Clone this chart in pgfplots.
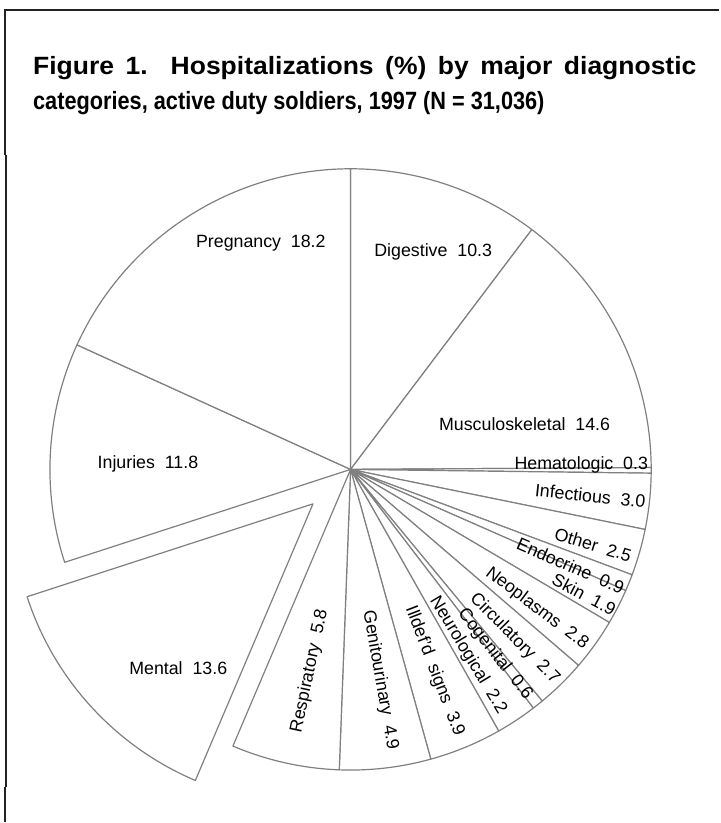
\documentclass[border=0pt]{standalone}
\usepackage{pgfplots}
\pgfplotsset{compat=1.18}
\usepackage{pgfplotstable}
\usepackage{fontspec}
\setmainfont{Liberation Sans}
\newfontfamily\titlefont{Liberation Sans}[FakeStretch=0.87]
\newfontfamily\titlefontwide{Liberation Sans}[FakeStretch=1.06]
\definecolor{slicegray}{HTML}{808080}
\definecolor{framegray}{HTML}{222222}
\newcommand\lbl{\fontsize{17.8}{21}\selectfont}

% label, value (%), explode (px), label angle, label radius, rotation, anchor
\pgfplotstableread[col sep=comma]{
label,value,explode,la,lr,rot,anc
Digestive,10.3,0,69.2,233,0,center
Musculoskeletal,14.6,0,14.5,180,0,center
Hematologic,0.3,0,0.8,299,0,east
Infectious,3.0,0,-6.2,298,-6,east
Other,2.5,0,-17.2,295,-17,east
Endocrine,0.9,0,-23.6,299,-23.5,east
Skin,1.9,0,-28.1,301,-28,east
Neoplasms,2.8,0,-36.8,296,-37,east
Circulatory,2.7,0,-45.8,297,-45.5,east
Cogenital,0.6,0,-52,291,-52,east
Neurological,2.2,0,-58,288,-59,east
Illdef'd\space\space signs,3.9,0,-67.8,289,-69,east
Genitourinary,4.9,0,-81.5,285,-80,east
Respiratory,5.8,0,-101.6,270,78,west
Mental,13.6,51,-131,263,0,center
Injuries,11.8,0,178.3,203,0,center
Pregnancy,18.2,0,111.6,244,0,center
}\piedata

\newcommand\getcell[2]{%
  \pgfplotstablegetelem{#1}{#2}\of\piedata
  \expandafter\xdef\csname p#2#1\endcsname{\pgfplotsretval}}

\begin{document}
\begin{tikzpicture}
\xdef\cum{90}
\pgfplotsinvokeforeach{0,...,16}{%
  \getcell{#1}{label}\getcell{#1}{la}\getcell{#1}{lr}\getcell{#1}{rot}%
  \getcell{#1}{anc}\getcell{#1}{explode}%
  \pgfmathsetmacro\tmpex{\pgfplotsretval}%
  \getcell{#1}{value}%
  \pgfmathsetmacro\tmpsa{\cum}%
  \pgfmathsetmacro\tmpea{\cum-3.6*\pgfplotsretval}%
  \pgfmathsetmacro\tmpmid{(\tmpsa+\tmpea)/2}%
  \pgfmathsetmacro\tmpox{\tmpex*cos(\tmpmid)}%
  \pgfmathsetmacro\tmpoy{\tmpex*sin(\tmpmid)}%
  \pgfmathsetmacro\tmpsx{\tmpox+301*cos(\tmpsa)}%
  \pgfmathsetmacro\tmpsy{\tmpoy+301*sin(\tmpsa)}%
  \expandafter\xdef\csname psa#1\endcsname{\tmpsa}%
  \expandafter\xdef\csname pea#1\endcsname{\tmpea}%
  \expandafter\xdef\csname pox#1\endcsname{\tmpox}%
  \expandafter\xdef\csname poy#1\endcsname{\tmpoy}%
  \expandafter\xdef\csname psx#1\endcsname{\tmpsx}%
  \expandafter\xdef\csname psy#1\endcsname{\tmpsy}%
  \pgfmathsetmacro\tmplx{\csname plr#1\endcsname*cos(\csname pla#1\endcsname)}%
  \pgfmathsetmacro\tmply{\csname plr#1\endcsname*sin(\csname pla#1\endcsname)}%
  \expandafter\xdef\csname plx#1\endcsname{\tmplx}%
  \expandafter\xdef\csname ply#1\endcsname{\tmply}%
  \xdef\cum{\tmpea}%
}
\begin{axis}[x=1pt, y=1pt, xmin=-351, xmax=369, ymin=-353, ymax=470,
  hide axis, clip=false]
\path (axis cs:-351,-353) rectangle (axis cs:369,470);
% frame
\draw[framegray, line width=2pt] (axis cs:-347,460) -- (axis cs:369,460);
\draw[framegray, line width=2pt] (axis cs:-346,461) -- (axis cs:-346,315);
\draw[framegray, line width=2pt] (axis cs:-345,315) -- (axis cs:-345,-318);
\draw[framegray, line width=2pt] (axis cs:-345.5,-318) -- (axis cs:-345.5,-353);
% title
\node[anchor=base west, inner sep=0pt, font=\titlefontwide\bfseries\fontsize{25}{30}\selectfont]
  at (axis cs:-318,395) {\makebox[664pt][s]{Figure 1.\ \ Hospitalizations (\%) by major diagnostic}};
\node[anchor=base west, inner sep=0pt, font=\titlefont\bfseries\fontsize{25}{30}\selectfont]
  at (axis cs:-318,360) {categories, active duty soldiers, 1997 (N = 31,036)};
% slices
\pgfplotsinvokeforeach{0,...,16}{%
  \edef\tmpcmd{\noexpand\draw[slicegray, line width=1.2pt, fill=white, line join=round]
    (axis cs:\csname pox#1\endcsname,\csname poy#1\endcsname) --
    (axis cs:\csname psx#1\endcsname,\csname psy#1\endcsname)
    arc[start angle=\csname psa#1\endcsname, end angle=\csname pea#1\endcsname, radius=301] -- cycle;}%
  \tmpcmd
}
% labels
\pgfplotsinvokeforeach{0,...,16}{%
  \edef\tmpcmd{\noexpand\node[anchor=\csname panc#1\endcsname, rotate=\csname prot#1\endcsname, inner sep=1pt]
    at (axis cs:\csname plx#1\endcsname,\csname ply#1\endcsname)
    {\noexpand\lbl \csname plabel#1\endcsname\noexpand\ \noexpand\ \csname pvalue#1\endcsname};}%
  \tmpcmd
}
\end{axis}
\end{tikzpicture}
\end{document}
